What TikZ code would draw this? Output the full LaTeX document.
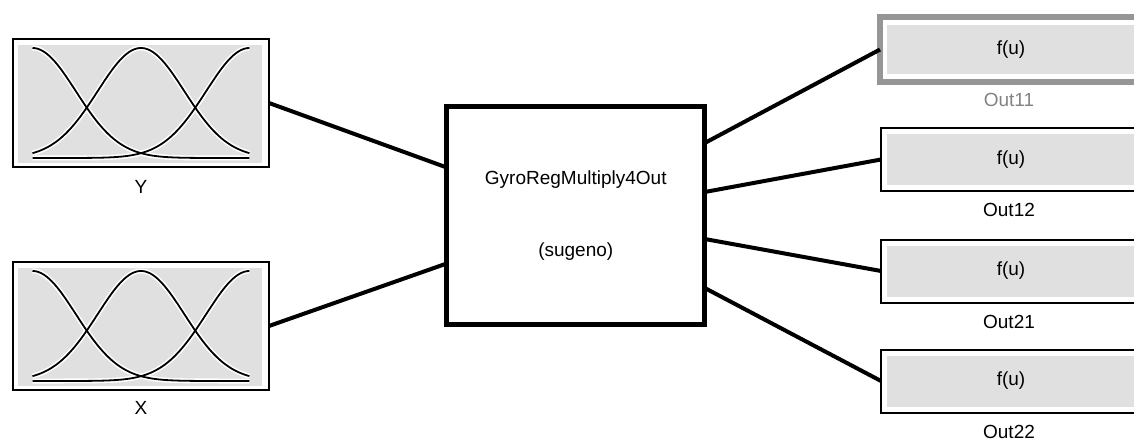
\documentclass[tikz,border=0pt]{standalone}
\usepackage{fontspec}
\setmainfont{Liberation Sans}
\usetikzlibrary{calc}
\definecolor{fillgray}{RGB}{224,224,224}
\definecolor{selgray}{RGB}{150,150,150}
\definecolor{lblgray}{RGB}{130,130,130}
\begin{document}
\begin{tikzpicture}[x=1pt,y=-1pt,
  font=\fontsize{19}{22}\selectfont,
  mfbox/.style={draw, line width=2pt, fill=white, minimum width=256pt, minimum height=128pt,
    inner sep=0pt, outer sep=0pt,
    path picture={\fill[fillgray] ([shift={(5pt,-6pt)}]path picture bounding box.north west)
      rectangle ([shift={(-7pt,4pt)}]path picture bounding box.south east);}},
  fisbox/.style={draw, line width=5pt, fill=white, minimum width=258pt, minimum height=218pt,
    inner sep=0pt, outer sep=0pt, align=center},
  outbox/.style={draw, line width=2pt, fill=white, minimum width=260pt, minimum height=63pt,
    inner sep=0pt, outer sep=0pt,
    path picture={\fill[fillgray] ([shift={(6pt,-6pt)}]path picture bounding box.north west)
      rectangle ([shift={(-6pt,6pt)}]path picture bounding box.south east);}},
  selbox/.style={draw=selgray, line width=6pt, fill=white, minimum width=262pt, minimum height=65pt,
    inner sep=0pt, outer sep=0pt,
    path picture={\fill[fillgray] ([shift={(7pt,-8pt)}]path picture bounding box.north west)
      rectangle ([shift={(-7pt,8pt)}]path picture bounding box.south east);}},
  lbl/.style={inner sep=0pt},
  wire/.style={line width=4pt},
  halo/.style={white, line width=5pt},
  mfcurve/.style={black, line width=1.8pt}
]
\useasboundingbox (0,0) rectangle (1134,441);
\clip (0,0) rectangle (1134,441);

% input membership function blocks
\node[mfbox] (Y) at (141,103) {};
\node[mfbox] (X) at (141,326) {};
\foreach \blk in {Y,X}{
  \begin{scope}[shift={(\blk.center)}]
    \foreach \c in {0,0.5,1}
      \draw[halo] plot[domain=0:1,samples=80,smooth] ({-108.5+217*\x},{55-110*exp(-((\x-\c)^2)/0.08)});
    \foreach \c in {0,0.5,1}
      \draw[mfcurve] plot[domain=0:1,samples=80,smooth] ({-108.5+217*\x},{55-110*exp(-((\x-\c)^2)/0.08)});
  \end{scope}
}
\node[lbl] (Ylbl) at (141,187) {Y};
\node[lbl] (Xlbl) at (141,408) {X};

% fuzzy inference system block
\node[fisbox] (C) at (575.75,215.5) {GyroRegMultiply4Out\\[50pt](sugeno)};

% output blocks
\node[selbox] (O11) at (1011,49.5) {f(u)};
\node[outbox] (O12) at (1011,159.5) {f(u)};
\node[outbox] (O21) at (1011,271) {f(u)};
\node[outbox] (O22) at (1011,381) {f(u)};
\node[lbl, text=lblgray] (L11) at (1009,100) {Out11};
\node[lbl] (L12) at (1009,210) {Out12};
\node[lbl] (L21) at (1009,322) {Out21};
\node[lbl] (L22) at (1009,432) {Out22};

% ports on the central block
\coordinate (inY) at ($(C.west)+(0,-48)$);
\coordinate (inX) at ($(C.west)+(0,48)$);
\coordinate (p1) at ($(C.east)+(0,-72.5)$);
\coordinate (p2) at ($(C.east)+(0,-23.5)$);
\coordinate (p3) at ($(C.east)+(0,23.5)$);
\coordinate (p4) at ($(C.east)+(0,72.5)$);

% connectors
\draw[wire] (Y.east) -- (inY);
\draw[wire] (X.east) -- (inX);
\draw[wire] (p1) -- (O11.west);
\draw[wire] (p2) -- (O12.west);
\draw[wire] (p3) -- (O21.west);
\draw[wire] (p4) -- (O22.west);
\end{tikzpicture}
\end{document}
